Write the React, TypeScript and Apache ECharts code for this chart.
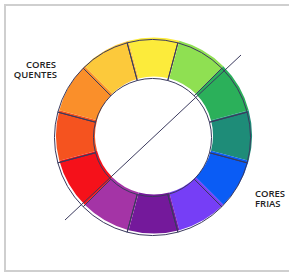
import React, { useEffect, useRef } from "react";
import * as echarts from "echarts";

const segmentNames = [
  "Amarelo",
  "Amarelo-esverdeado",
  "Verde",
  "Verde-azulado",
  "Azul",
  "Azul-violeta",
  "Violeta",
  "Vermelho-violeta",
  "Vermelho",
  "Vermelho-alaranjado",
  "Laranja",
  "Amarelo-alaranjado",
];
const segmentValues = [1, 1, 1, 1, 1, 1, 1, 1, 1, 1, 1, 1];
const segmentColors = [
  "#FCEB3B",
  "#8FE052",
  "#2BB05A",
  "#1E8C78",
  "#0A5CF5",
  "#763EF6",
  "#74199B",
  "#A434A6",
  "#F5111A",
  "#F5531F",
  "#FA8F2A",
  "#FCC93B",
];
const warmLabel = ["CORES", "QUENTES"];
const coolLabel = ["CORES", "FRIAS"];

export default function App() {
  const ref = useRef<HTMLDivElement>(null);
  useEffect(() => {
    if (!ref.current) return;
    const chart = echarts.init(ref.current, null, { renderer: "svg" });
    const outline = "#3b3a5e";
    const textStyle = {
      fontFamily: "Open Sans",
      fontWeight: 600,
      fontSize: 9.5,
      fill: "#222222",
      verticalAlign: "middle",
    };
    chart.setOption({
      animation: false,
      backgroundColor: "#ffffff",
      series: [
        {
          type: "pie",
          silent: true,
          center: [154, 135.5],
          radius: [59, 98],
          startAngle: 105,
          clockwise: true,
          label: { show: false },
          labelLine: { show: false },
          emphasis: { disabled: true },
          data: segmentNames.map((n, i) => ({
            name: n,
            value: segmentValues[i],
            itemStyle: { color: segmentColors[i], borderWidth: 0 },
          })),
          z: 2,
        },
        {
          type: "pie",
          silent: true,
          center: [152.5, 137.5],
          radius: [59, 98],
          startAngle: 105,
          clockwise: true,
          label: { show: false },
          labelLine: { show: false },
          emphasis: { disabled: true },
          data: segmentNames.map((n, i) => ({
            name: n,
            value: segmentValues[i],
            itemStyle: {
              color: "rgba(0,0,0,0)",
              borderColor: outline,
              borderWidth: 1,
            },
          })),
          z: 3,
        },
      ],
      graphic: [
        {
          type: "rect",
          z: 100,
          shape: { x: 5, y: 5, width: 300, height: 266 },
          style: { fill: "none", stroke: "#cfcfcf", lineWidth: 2 },
        },
        {
          type: "line",
          z: 100,
          shape: { x1: 65, y1: 220, x2: 241, y2: 55 },
          style: { stroke: outline, lineWidth: 1 },
        },
        {
          type: "text",
          z: 100,
          x: 56,
          y: 64,
          style: { ...textStyle, text: warmLabel[0], align: "right" },
        },
        {
          type: "text",
          z: 100,
          x: 57,
          y: 74,
          style: { ...textStyle, text: warmLabel[1], align: "right" },
        },
        {
          type: "text",
          z: 100,
          x: 255,
          y: 193,
          style: { ...textStyle, text: coolLabel[0], align: "left" },
        },
        {
          type: "text",
          z: 100,
          x: 255,
          y: 203,
          style: { ...textStyle, text: coolLabel[1], align: "left" },
        },
      ],
    });
    return () => chart.dispose();
  }, []);
  return (
    <div
      ref={ref}
      style={{ position: "fixed", left: 0, top: 0, width: 289, height: 273 }}
    />
  );
}
